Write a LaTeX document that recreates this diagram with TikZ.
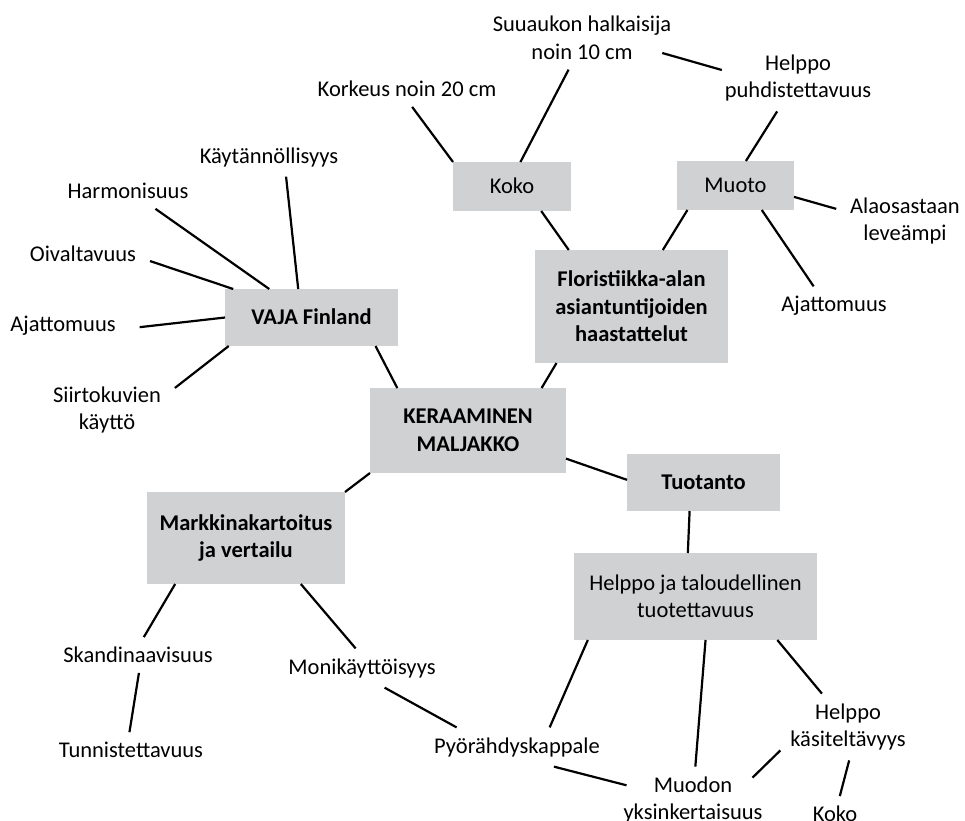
\documentclass[tikz,border=0pt]{standalone}
\usepackage{fontspec}
\setmainfont{Carlito}
\usepackage{tikz}
\usetikzlibrary{positioning}
\definecolor{boxgray}{RGB}{208,209,211}

\begin{document}
\begin{tikzpicture}[x=1pt, y=-1pt,
        box/.style={fill=boxgray, inner sep=0pt, outer sep=0pt, align=center, font=\fontsize{22.5}{27.5}\selectfont},
        hd/.style={box, font=\fontsize{22.5}{27.5}\selectfont\bfseries},
        one/.style={text height=14.5pt, text depth=0pt},
        txt/.style={inner xsep=14pt, inner ysep=10pt, outer sep=0pt, align=center, font=\fontsize{22.5}{27.5}\selectfont},
        link/.style={line width=2.2pt}]
    \useasboundingbox (0,0) rectangle (965,820);

    % laatikot
    \node[hd, minimum width=196pt, minimum height=85pt] (keraa) at (468,430.5) {KERAAMINEN\\MALJAKKO};
    \node[hd, one, minimum width=173pt, minimum height=57pt] (vaja) at (311.5,317.5) {VAJA Finland};
    \node[hd, minimum width=193pt, minimum height=113pt] (flor) at (631.5,306.5) {Floristiikka-alan\\asiantuntijoiden\\haastattelut};
    \node[hd, one, minimum width=153pt, minimum height=57pt] (tuot) at (703.5,482.5) {Tuotanto};
    \node[hd, minimum width=198pt, minimum height=92pt] (mark) at (246,538) {Markkinakartoitus\\ja vertailu};
    \node[box, one, minimum width=118pt, minimum height=49pt] (koko) at (512,186.5) {Koko};
    \node[box, one, minimum width=117pt, minimum height=49pt] (muoto) at (735.5,185.5) {Muoto};
    \node[box, minimum width=243pt, minimum height=87pt] (helpjt) at (695.5,596.5) {Helppo ja taloudellinen\\tuotettavuus};

    % tekstit
    \node[txt] (kaytan) at (269,157) {Käytännöllisyys};
    \node[txt] (harmon) at (128,191) {Harmonisuus};
    \node[txt] (oival) at (83,254) {Oivaltavuus};
    \node[txt] (ajatL) at (63,326) {Ajattomuus};
    \node[txt] (siirto) at (107,410) {Siirtokuvien\\käyttö};
    \node[txt] (korkeus) at (407,89) {Korkeus noin 20 cm};
    \node[txt] (suuauk) at (582,38) {Suuaukon halkaisija\\noin 10 cm};
    \node[txt] (helpuh) at (798,78) {Helppo\\puhdistettavuus};
    \node[txt] (alaos) at (905,221) {Alaosastaan\\leveämpi};
    \node[txt] (ajatR) at (834,306) {Ajattomuus};
    \node[txt] (skand) at (138,655) {Skandinaavisuus};
    \node[txt] (tunnis) at (131,750) {Tunnistettavuus};
    \node[txt] (monik) at (362,668) {Monikäyttöisyys};
    \node[txt] (pyor) at (517,747) {Pyörähdyskappale};
    \node[txt] (muodon) at (693,800) {Muodon\\yksinkertaisuus};
    \node[txt] (helkas) at (848,727) {Helppo\\käsiteltävyys};
    \node[txt] (kokoB) at (835,814) {Koko};

    % viivat
    \draw[link] (kaytan.-49) -- (vaja.115);
    \draw[link] (harmon.-33) -- (vaja.146);
    \draw[link] (oival.-6) -- (vaja.160);
    \draw[link] ([xshift=10pt]ajatL.-1) -- (vaja.180);
    \draw[link] (siirto.18) -- (vaja.199);
    \draw[link] (vaja.-24) -- (keraa.149);
    \draw[link] (korkeus.-74) -- (koko.north west);
    \draw[link] (suuauk.247) -- (koko.71);
    \draw[link] ([xshift=-23pt,yshift=-15pt]suuauk.east) -- ([xshift=11pt,yshift=8pt]helpuh.west);
    \draw[link] (helpuh.238) -- (muoto.67);
    \draw[link] (koko.-40) -- (flor.138);
    \draw[link] (muoto.207) -- (flor.61);
    \draw[link] (muoto.-11) -- (alaos.170);
    \draw[link] (muoto.-43) -- (ajatR.136);
    \draw[link] (flor.217) -- (keraa.30);
    \draw[link] (keraa.-16) -- (tuot.178);
    \draw[link] (keraa.south west) -- (mark.north east);
    \draw[link] (tuot.244) -- (helpjt.100);
    \draw[link] (helpjt.202) -- (pyor.31);
    \draw[link] (helpjt.-77) -- (muodon.86);
    \draw[link] (helpjt.-28) -- (helkas.128);
    \draw[link] (pyor.-28) -- ([xshift=17pt]muodon.170);
    \draw[link] ([xshift=4pt,yshift=10pt]helkas.south west) -- ([xshift=-24pt,yshift=-11pt]muodon.north east);
    \draw[link] (helkas.-88) -- (kokoB.75);
    \draw[link] (mark.213) -- (skand.72);
    \draw[link] (mark.-40) -- (monik.108);
    \draw[link] (skand.-87) -- (tunnis.95);
    \draw[link] (monik.-41) -- (pyor.162);
\end{tikzpicture}
\end{document}
